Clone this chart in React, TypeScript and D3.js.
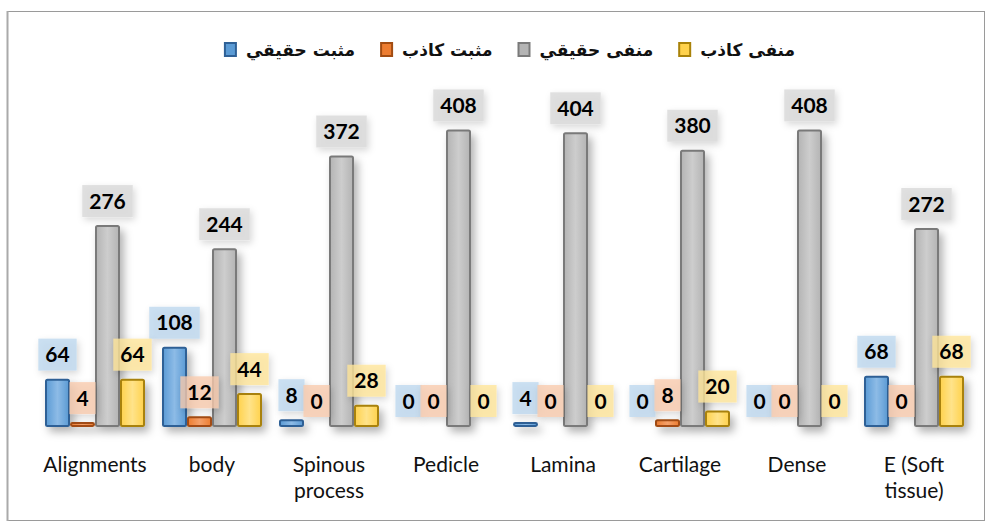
import * as d3 from "d3";
import { useEffect, useRef } from "react";

const categories = ["Alignments", "body", "Spinous process", "Pedicle", "Lamina", "Cartilage", "Dense", "E (Soft tissue)"];
const seriesNames = ["مثبت حقيقي", "مثبت كاذب", "منفى حقيقي", "منفى كاذب"];
const truePositive = [64, 108, 8, 0, 4, 0, 0, 68];
const falsePositive = [4, 12, 0, 0, 0, 8, 0, 0];
const trueNegative = [276, 244, 372, 408, 404, 380, 408, 272];
const falseNegative = [64, 44, 28, 0, 0, 20, 0, 68];

const W = 992;
const H = 529;

const styles = [
  { fill: "#5B9BD5", light: "#8DBBE6", stroke: "#2E6096", label: "#BDD7EE" },
  { fill: "#ED7D31", light: "#F4A06A", stroke: "#A24C12", label: "#F8CBAD" },
  { fill: "#B4B4B4", light: "#CDCDCD", stroke: "#7A7A7A", label: "#D9D9D9" },
  { fill: "#FFD24D", light: "#FFE38A", stroke: "#A98209", label: "#FFE699" },
];

const draw = (el: SVGSVGElement) => {
  const svg = d3.select(el);
  svg.selectAll("*").remove();
  const series = [truePositive, falsePositive, trueNegative, falseNegative];

  const defs = svg.append("defs");
  const sh = defs.append("filter").attr("id", "barShadow").attr("x", "-50%").attr("y", "-20%").attr("width", "200%").attr("height", "150%");
  sh.append("feDropShadow").attr("dx", 4).attr("dy", 5).attr("stdDeviation", 4).attr("flood-color", "#000").attr("flood-opacity", 0.3);
  const lsh = defs.append("filter").attr("id", "lblShadow").attr("x", "-50%").attr("y", "-50%").attr("width", "200%").attr("height", "200%");
  lsh.append("feDropShadow").attr("dx", 2).attr("dy", 3).attr("stdDeviation", 3.5).attr("flood-color", "#000").attr("flood-opacity", 0.2);
  styles.forEach((s, i) => {
    const g = defs.append("linearGradient").attr("id", `grad${i}`).attr("x1", 0).attr("x2", 1).attr("y1", 0).attr("y2", 0);
    g.append("stop").attr("offset", "0%").attr("stop-color", s.fill);
    g.append("stop").attr("offset", "50%").attr("stop-color", s.light);
    g.append("stop").attr("offset", "100%").attr("stop-color", s.fill);
  });

  svg.append("rect").attr("width", W).attr("height", H).attr("fill", "#fff");
  // chart border
  svg.append("rect").attr("x", 7.5).attr("y", 11.5).attr("width", 977).attr("height", 509)
    .attr("fill", "none").attr("stroke", "#9a9a9a").attr("stroke-width", 1);
  svg.append("line").attr("x1", 7.5).attr("x2", 7.5).attr("y1", 11).attr("y2", 521).attr("stroke", "#aaa").attr("stroke-width", 2);

  const x0 = d3.scaleBand<string>().domain(categories).range([36.5, 972.5]);
  const x1 = d3.scaleBand<number>().domain([0, 1, 2, 3]).range([0, 100]);
  const y = d3.scaleLinear().domain([0, 450]).range([426, 100]);
  const bx = (ci: number, si: number) => (x0(categories[ci]) as number) + x0.bandwidth() / 2 - 50 + (x1(si) as number);

  // bars
  const barsG = svg.append("g").attr("filter", "url(#barShadow)");
  series.forEach((vals, si) => {
    barsG.selectAll(`rect.s${si}`).data(vals).enter().append("rect")
      .attr("x", (_, ci) => bx(ci, si) + 1)
      .attr("width", x1.bandwidth() - 2)
      .attr("y", (d) => y(d))
      .attr("height", (d) => Math.max(0, y(0) - y(d)))
      .attr("rx", 1.5)
      .attr("fill", `url(#grad${si})`)
      .attr("stroke", styles[si].stroke)
      .attr("stroke-width", (d) => (d > 0 ? 2 : 0));
  });

  // data labels
  const lblG = svg.append("g");
  series.forEach((vals, si) => {
    vals.forEach((v, ci) => {
      const cx = bx(ci, si) + x1.bandwidth() / 2;
      const cy = y(v) - 25;
      const g = lblG.append("g");
      const r = g.append("rect").attr("fill", styles[si].label).attr("fill-opacity", 0.78).attr("filter", "url(#lblShadow)");
      const t = g.append("text").attr("x", cx).attr("y", cy).attr("dy", "0.36em")
        .attr("text-anchor", "middle").attr("font-family", "Lato, 'Open Sans', sans-serif")
        .attr("font-weight", 700).attr("font-size", 21).attr("fill", "#000").text(String(v));
      const tw = (t.node() as SVGTextElement).getComputedTextLength();
      const bw = tw + 14;
      r.attr("x", cx - bw / 2).attr("y", cy - 16).attr("width", bw).attr("height", 32);
    });
  });

  // category labels
  const catG = svg.append("g").attr("font-family", "Lato, 'Open Sans', sans-serif").attr("font-size", 21).attr("fill", "#111");
  categories.forEach((c) => {
    const cx = (x0(c) as number) + x0.bandwidth() / 2;
    const t = catG.append("text").attr("x", cx).attr("y", 472).attr("text-anchor", "middle");
    const words = c.split(" ");
    let line: string[] = [];
    let lineNo = 0;
    let ts = t.append("tspan").attr("x", cx).attr("y", 472);
    words.forEach((w) => {
      line.push(w);
      ts.text(line.join(" "));
      if ((ts.node() as SVGTSpanElement).getComputedTextLength() > x0.bandwidth() - 4 && line.length > 1) {
        line.pop();
        ts.text(line.join(" "));
        line = [w];
        lineNo += 1;
        ts = t.append("tspan").attr("x", cx).attr("y", 472 + lineNo * 26).text(w);
      }
    });
  });

  // legend
  const legG = svg.append("g");
  const items = seriesNames.map((name, i) => {
    const g = legG.append("g");
    g.append("rect").attr("x", 0).attr("y", -7).attr("width", 11).attr("height", 13)
      .attr("fill", styles[i].fill).attr("stroke", styles[i].stroke).attr("stroke-width", 2);
    const t = g.append("text").attr("x", 21).attr("y", 0).attr("dy", "0.35em")
      .attr("font-family", "'DejaVu Sans', sans-serif").attr("font-weight", 700).attr("font-size", 17)
      .attr("fill", "#111").text(name);
    const tw = (t.node() as SVGTextElement).getComputedTextLength();
    return { g, w: 21 + tw };
  });
  const gap = 26;
  const total = d3.sum(items, (d) => d.w) + gap * (items.length - 1);
  let lx = 510 - total / 2;
  items.forEach((it) => {
    it.g.attr("transform", `translate(${lx},50)`);
    lx += it.w + gap;
  });
};

export default function App() {
  const ref = useRef<SVGSVGElement>(null);
  useEffect(() => {
    document.body.style.margin = "0";
    if (!ref.current) return;
    draw(ref.current);
  }, []);
  return <svg ref={ref} width={W} height={H} style={{ display: "block" }} />;
}
